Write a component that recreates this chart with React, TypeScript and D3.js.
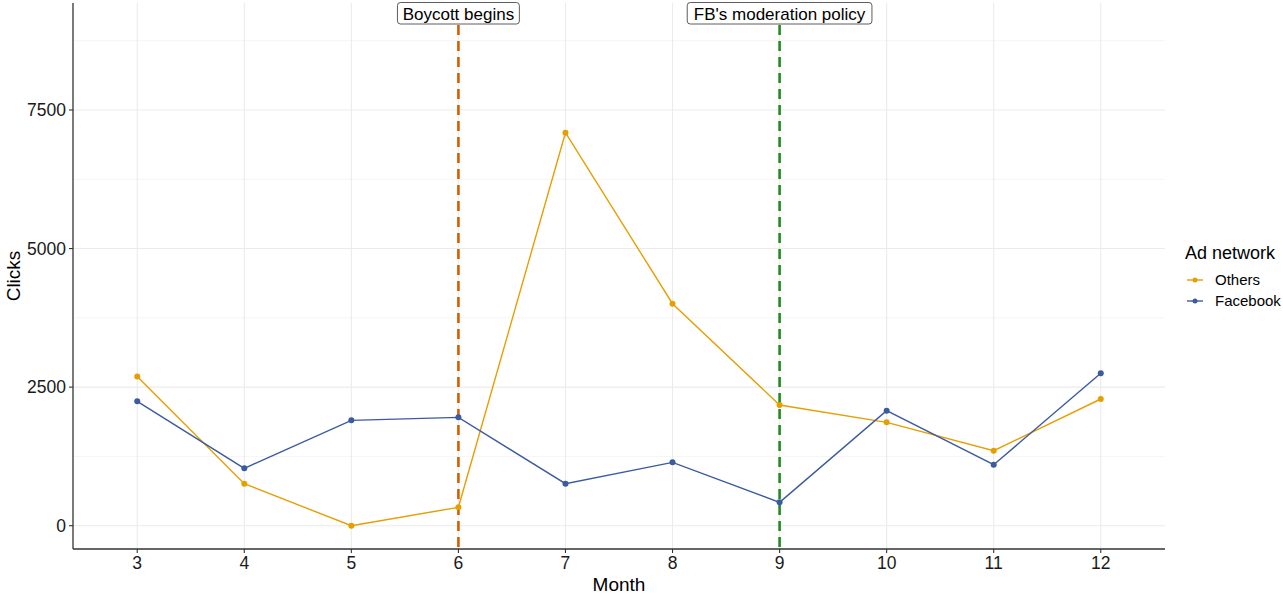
import React from "react";
import * as d3 from "d3";

const months = [3, 4, 5, 6, 7, 8, 9, 10, 11, 12];
const others = [2690, 758, 0, 332, 7090, 4005, 2178, 1865, 1353, 2286];
const facebook = [2244, 1035, 1901, 1955, 758, 1143, 422, 2075, 1101, 2749];
const yTicks = [0, 2500, 5000, 7500];
const yMinor = [1250, 3750, 6250, 8750];
const events = [
  { month: 6, label: "Boycott begins", color: "#D55E00" },
  { month: 9, label: "FB's moderation policy", color: "#228B22" },
];
const seriesNames = ["Others", "Facebook"];
const seriesColors = ["#E69F00", "#3B5BA0"];

const W = 1283, H = 597;
const L = 73, R = 1165, T = 3, B = 549;
const FONT = "'Liberation Sans', Arial, Helvetica, sans-serif";

export default function App() {
  const x = d3.scaleLinear().domain([2.4, 12.6]).range([L, R]);
  const y = d3.scaleLinear().domain([-420, 9430]).range([B, T]);
  const line = d3.line<[number, number]>().x(d => x(d[0])).y(d => y(d[1]));
  const series = [others, facebook].map(v => months.map((m, i) => [m, v[i]] as [number, number]));

  return (
    <svg width={W} height={H} style={{ position: "absolute", left: 0, top: 0, background: "#fff" }} fontFamily={FONT}>
      {/* grid */}
      {yMinor.map(t => <line key={"ym" + t} x1={L} x2={R} y1={y(t)} y2={y(t)} stroke="#f2f2f2" strokeWidth={0.8} />)}
      {yTicks.map(t => <line key={"y" + t} x1={L} x2={R} y1={y(t)} y2={y(t)} stroke="#ebebeb" strokeWidth={1.1} />)}
      {months.map(m => <line key={"x" + m} x1={x(m)} x2={x(m)} y1={T} y2={B} stroke="#ebebeb" strokeWidth={1.1} />)}
      {/* axes */}
      <line x1={L} x2={L} y1={T} y2={B} stroke="#333" strokeWidth={1.3} />
      <line x1={L} x2={R} y1={B} y2={B} stroke="#333" strokeWidth={1.3} />
      {yTicks.map(t => (
        <g key={"yt" + t}>
          <line x1={L - 4} x2={L} y1={y(t)} y2={y(t)} stroke="#333" strokeWidth={1.1} />
          <text x={L - 7} y={y(t)} dy="0.35em" textAnchor="end" fontSize={17.5} fill="#1a1a1a">{t}</text>
        </g>
      ))}
      {months.map(m => (
        <g key={"xt" + m}>
          <line x1={x(m)} x2={x(m)} y1={B} y2={B + 4} stroke="#333" strokeWidth={1.1} />
          <text x={x(m)} y={B + 20} textAnchor="middle" fontSize={17.5} fill="#1a1a1a">{m}</text>
        </g>
      ))}
      <text x={(L + R) / 2} y={591} textAnchor="middle" fontSize={19} fill="#000">Month</text>
      <text transform={`translate(20,${(T + B) / 2}) rotate(-90)`} textAnchor="middle" fontSize={19} fill="#000">Clicks</text>
      {/* event lines */}
      {events.map(e => (
        <line key={e.label} x1={x(e.month)} x2={x(e.month)} y1={T + 22} y2={B} stroke={e.color} strokeWidth={2.6} strokeDasharray="10,6" />
      ))}
      {/* series */}
      {series.map((s, i) => (
        <g key={seriesNames[i]}>
          <path d={line(s) || ""} fill="none" stroke={seriesColors[i]} strokeWidth={1.4} />
          {s.map((d, j) => <circle key={j} cx={x(d[0])} cy={y(d[1])} r={3} fill={seriesColors[i]} />)}
        </g>
      ))}
      {/* labels */}
      {events.map(e => {
        const w = e.label.length * 7.85 + 12;
        return (
          <g key={"lab" + e.label}>
            <rect x={x(e.month) - w / 2} y={2.5} width={w} height={21.5} rx={3} fill="#fff" stroke="#333" strokeWidth={0.8} />
            <text x={x(e.month)} y={13.5} dy="0.36em" textAnchor="middle" fontSize={17} fill="#000">{e.label}</text>
          </g>
        );
      })}
      {/* legend */}
      <text x={1185} y={259} fontSize={18} fill="#000">Ad network</text>
      {seriesNames.map((n, i) => (
        <g key={"lg" + n} transform={`translate(0,${280 + i * 21})`}>
          <line x1={1187} x2={1203} y1={0} y2={0} stroke={seriesColors[i]} strokeWidth={1.4} />
          <circle cx={1195} cy={0} r={2.5} fill={seriesColors[i]} />
          <text x={1215} y={0} dy="0.35em" fontSize={15} fill="#000">{n}</text>
        </g>
      ))}
    </svg>
  );
}
